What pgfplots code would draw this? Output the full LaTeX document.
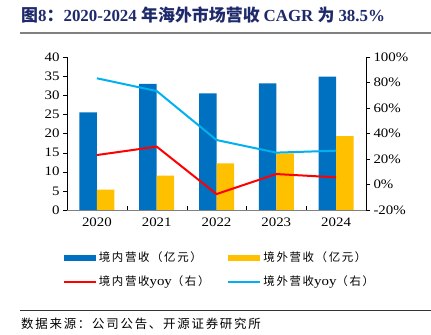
\documentclass[border=0pt]{standalone}
\usepackage{pgfplots}
\pgfplotsset{compat=1.18}
\usepackage{fontspec}
\setmainfont{Liberation Serif}
\newfontfamily\tickfont{Liberation Serif}[FakeStretch=1.15]
\newfontfamily\cjk{Noto Sans CJK SC}
\newfontfamily\cjks{Noto Sans CJK SC}[LetterSpace=14]
\definecolor{cblue}{HTML}{0070C0}
\definecolor{cyellow}{HTML}{FFC000}
\definecolor{cred}{HTML}{FF0000}
\definecolor{clblue}{HTML}{00B0F0}
\definecolor{ctitle}{HTML}{1F2A6B}
\begin{document}
\begin{tikzpicture}[x=1bp,y=1bp]
\useasboundingbox (0,0) rectangle (431,335);
\node[anchor=west, font=\fontsize{17}{18}\selectfont\bfseries, text=ctitle, inner sep=0] at (21,320)
  {\cjk 图\rmfamily 8\cjk ：\rmfamily 2020-2024 \cjk 年海外市场营收 \rmfamily CAGR \cjk 为 \rmfamily 38.5\%};
\draw[black!50, line width=2bp] (20,302) -- (431,302);
\draw[black!80, line width=0.8bp] (20,25) -- (431,25);
\node[anchor=west, font=\fontsize{12.5}{14}\selectfont\cjks, inner sep=0] at (21,11) {数据来源：公司公告、开源证券研究所};

\begin{axis}[
  at={(67bp,125bp)}, anchor=south west, scale only axis,
  width=299bp, height=153bp,
  xmin=-0.5, xmax=4.5, ymin=0, ymax=40,
  axis y line*=left, axis x line*=bottom,
  y axis line style={black, -}, x axis line style={black!50, -},
  xtick={0,...,4}, xticklabels={2020,2021,2022,2023,2024},
  major x tick style={draw=none},
  minor xtick={0.5,1.5,2.5,3.5},
  minor tick length=4bp,
  minor x tick style={black, yshift=4bp},
  tick align=outside, major tick length=4bp,
  ytick={0,5,...,40},
  y tick style={black},
  ticklabel style={font=\fontsize{13}{14}\selectfont\tickfont},
  /pgf/number format/assume math mode=true,
  ybar=0pt, bar width=17.5bp,
  legend style={at={(0.51,-0.39)}, anchor=center, draw=none, fill=none,
    font=\fontsize{11.5}{12}\selectfont, legend columns=2,
    /tikz/every even column/.append style={column sep=16bp},
    row sep=9bp},
  legend cell align=left,
]
\addplot[fill=cblue, draw=none, area legend,
  legend image code/.code={\fill[cblue] (0bp,-3bp) rectangle (32bp,3bp);}]
  coordinates {(0,25.5) (1,33) (2,30.5) (3,33.1) (4,34.9)};
\addlegendentry{\cjks 境内营收（亿元）}
\addplot[fill=cyellow, draw=none, area legend,
  legend image code/.code={\fill[cyellow] (0bp,-3bp) rectangle (32bp,3bp);}]
  coordinates {(0,5.3) (1,9.0) (2,12.2) (3,14.8) (4,19.3)};
\addlegendentry{\cjks 境外营收（亿元）}
\addlegendimage{legend image code/.code={\draw[cred, line width=2bp] (0bp,0bp) -- (32bp,0bp);}}
\addlegendentry{\cjks 境内营收{\fontsize{13}{14}\selectfont\tickfont yoy}（右）}
\addlegendimage{legend image code/.code={\draw[clblue, line width=2bp] (0bp,0bp) -- (32bp,0bp);}}
\addlegendentry{\cjks 境外营收{\fontsize{13}{14}\selectfont\tickfont yoy}（右）}
\end{axis}

\begin{axis}[
  at={(67bp,125bp)}, anchor=south west, scale only axis,
  width=299bp, height=153bp,
  xmin=-0.5, xmax=4.5, ymin=-20, ymax=100,
  axis y line*=right, axis x line=none,
  y axis line style={black, -},
  ytick={-20,0,...,100},
  yticklabel={\pgfmathprintnumber{\tick}\%},
  tick align=outside, major tick length=4bp,
  y tick style={black},
  ticklabel style={font=\fontsize{13}{14}\selectfont\tickfont},
  /pgf/number format/assume math mode=true,
]
\addplot[cred, line width=2bp, mark=none] coordinates {(0,23.1) (1,29.7) (2,-7.5) (3,8.2) (4,5.6)};
\addplot[clblue, line width=2bp, mark=none] coordinates {(0,83.3) (1,73.3) (2,34.9) (3,25.0) (4,26.5)};
\end{axis}
\end{tikzpicture}
\end{document}
